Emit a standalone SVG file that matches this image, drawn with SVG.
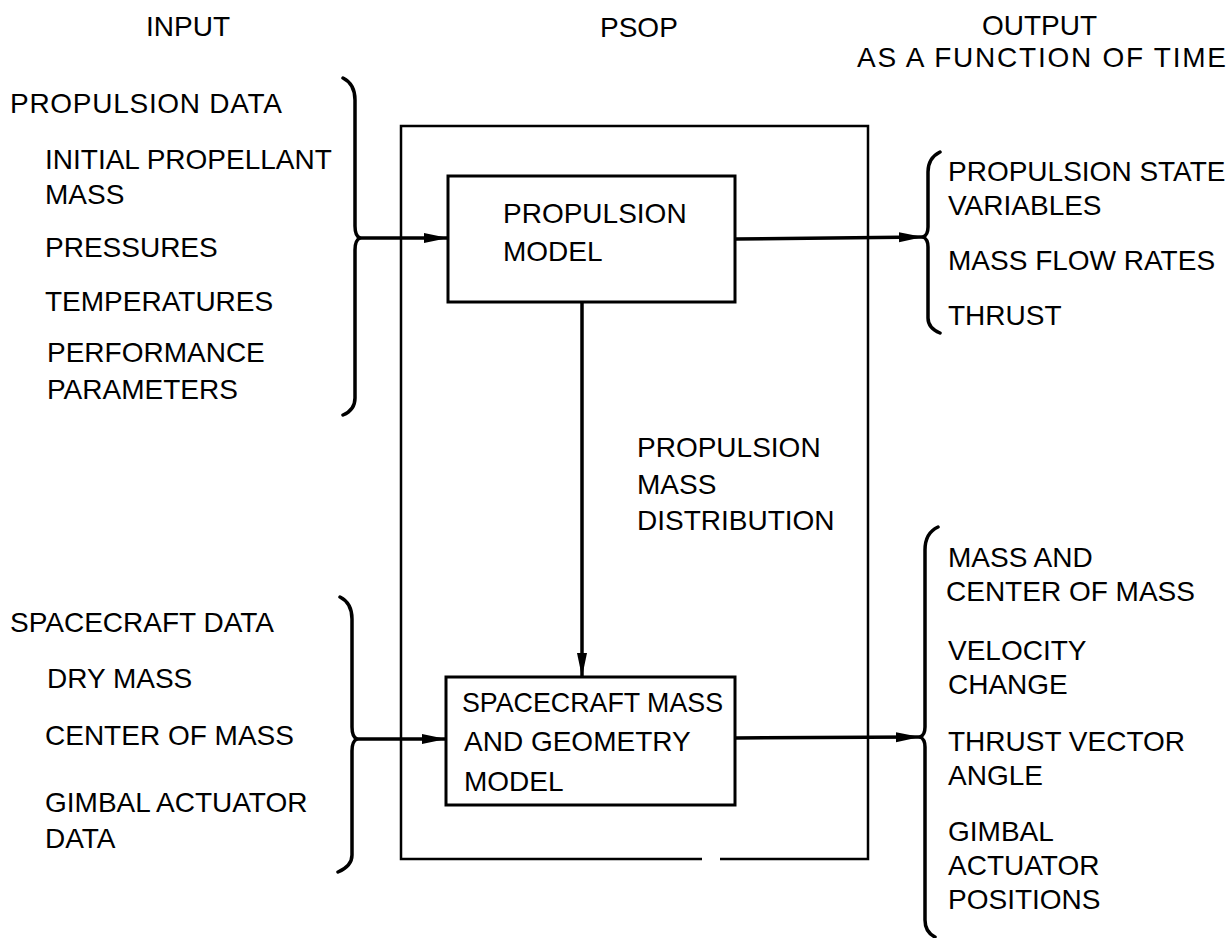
<svg xmlns="http://www.w3.org/2000/svg" width="1232" height="938" viewBox="0 0 1232 938">
<style>
text{font-family:"Liberation Sans",Arial,sans-serif;font-size:28px;fill:#000}
.box{fill:none;stroke:#000;stroke-width:3}
.outer{fill:none;stroke:#000;stroke-width:2.5}
.line{fill:none;stroke:#000;stroke-width:3.5}
.brace{fill:none;stroke:#000;stroke-width:3.5;stroke-linecap:round;stroke-linejoin:round}
</style>
<defs>
<marker id="ah" viewBox="0 0 24 12" refX="24" refY="6" markerWidth="24" markerHeight="12" markerUnits="userSpaceOnUse" orient="auto">
<path d="M0,1 L24,6 L0,11 Z" fill="#000"/>
</marker>
</defs>
<rect width="1232" height="938" fill="#fff"/>

<g id="headers">
<text x="146" y="36">INPUT</text>
<text x="600" y="37">PSOP</text>
<text x="982" y="35">OUTPUT</text>
<text x="857" y="67" textLength="369" lengthAdjust="spacing">AS A FUNCTION OF TIME</text>
</g>

<g id="psop">
<path class="outer" d="M702,859 L401,859 L401,126 L868,126 L868,859 L720,859"/>
</g>

<g id="propulsion-model">
<rect class="box" x="448" y="176" width="287" height="126"/>
<text x="503" y="223">PROPULSION</text>
<text x="503" y="261">MODEL</text>
</g>

<g id="spacecraft-model">
<rect class="box" x="446" y="677" width="289" height="128"/>
<text x="462" y="712" textLength="261" lengthAdjust="spacingAndGlyphs">SPACECRAFT MASS</text>
<text x="464" y="751">AND GEOMETRY</text>
<text x="464" y="791">MODEL</text>
</g>

<g id="propulsion-input">
<path class="brace" d="M343,78 Q355,84 355,100 L355,226 Q355,236 360,238 Q355,240 355,250 L355,398 Q355,410 343,415"/>
<text x="10" y="113" textLength="272" lengthAdjust="spacing">PROPULSION DATA</text>
<text x="45" y="169">INITIAL PROPELLANT</text>
<text x="45" y="204">MASS</text>
<text x="45" y="257">PRESSURES</text>
<text x="45" y="311">TEMPERATURES</text>
<text x="47" y="362">PERFORMANCE</text>
<text x="47" y="399">PARAMETERS</text>
</g>

<g id="spacecraft-input">
<path class="brace" d="M340,597 Q352,603 352,619 L352,727 Q352,737 357,739 Q352,741 352,751 L352,855 Q352,866 338,872"/>
<text x="10" y="632">SPACECRAFT DATA</text>
<text x="47" y="688">DRY MASS</text>
<text x="45" y="745">CENTER OF MASS</text>
<text x="45" y="812">GIMBAL ACTUATOR</text>
<text x="45" y="848">DATA</text>
</g>

<g id="propulsion-output">
<path class="brace" d="M940,152 Q928,158 928,172 L928,227 Q928,235 923,237 Q928,239 928,247 L928,318 Q928,328 940,333"/>
<text x="948" y="181">PROPULSION STATE</text>
<text x="948" y="215">VARIABLES</text>
<text x="948" y="270">MASS FLOW RATES</text>
<text x="948" y="325">THRUST</text>
</g>

<g id="spacecraft-output">
<path class="brace" d="M938,527 Q925,533 925,550 L925,727 Q925,735 920,737 Q925,739 925,747 L925,920 Q925,932 935,937"/>
<text x="948" y="567">MASS AND</text>
<text x="946" y="601">CENTER OF MASS</text>
<text x="948" y="660">VELOCITY</text>
<text x="948" y="694">CHANGE</text>
<text x="948" y="751">THRUST VECTOR</text>
<text x="948" y="785">ANGLE</text>
<text x="948" y="841">GIMBAL</text>
<text x="948" y="875">ACTUATOR</text>
<text x="948" y="909">POSITIONS</text>
</g>

<g id="mass-distribution-label">
<text x="637" y="457">PROPULSION</text>
<text x="637" y="494">MASS</text>
<text x="637" y="530">DISTRIBUTION</text>
</g>

<g id="connectors">
<line class="line" x1="360" y1="238" x2="448" y2="238" marker-end="url(#ah)"/>
<line class="line" x1="735" y1="239" x2="923" y2="237" marker-end="url(#ah)"/>
<line class="line" x1="582" y1="302" x2="582" y2="677" marker-end="url(#ah)"/>
<line class="line" x1="357" y1="739" x2="446" y2="739" marker-end="url(#ah)"/>
<line class="line" x1="735" y1="738" x2="920" y2="737" marker-end="url(#ah)"/>
</g>
</svg>
